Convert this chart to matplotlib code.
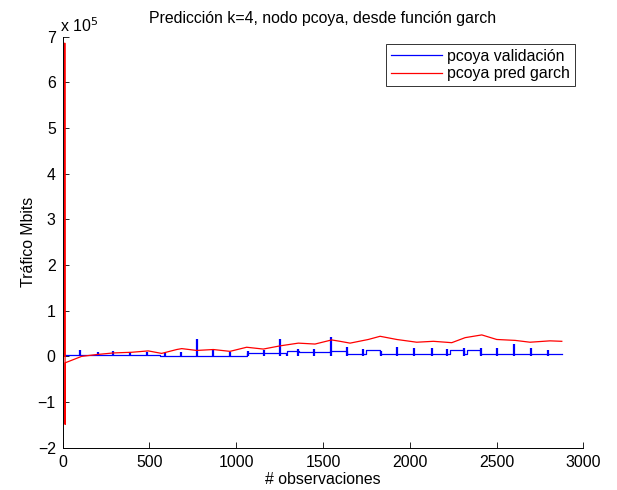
import numpy as np
import matplotlib.pyplot as plt

plt.rcParams['font.family'] = ['Liberation Sans', 'DejaVu Sans']

# red series: garch prediction (vertices, y in units of 1e4)
pred_x = [11, 12, 14, 15, 109, 196, 292, 398, 493, 570, 657, 686, 772, 868, 964, 1060,
          1156, 1252, 1358, 1454, 1550, 1598, 1656, 1761, 1829, 1925, 2040, 2136,
          2242, 2319, 2415, 2501, 2607, 2693, 2808, 2876]
pred_y = [0.0, 68.6, -14.9, -1.4, 0.0, 0.4, 0.75, 0.9, 1.2, 0.65, 1.5, 1.7, 1.3, 1.5, 1.1, 2.0,
          1.6, 2.3, 2.9, 2.7, 3.6, 3.3, 2.9, 3.7, 4.4, 3.7, 3.1, 3.3,
          3.0, 4.1, 4.7, 3.7, 3.5, 3.1, 3.4, 3.3]

# blue series: validation baseline (step levels, 1e4 units)
base_x = [0, 560, 1060, 1290, 1360, 1540, 1640, 1750, 1830, 2230, 2310, 2330, 2405, 2880]
base_y = [0.25, 0.15, 0.7, 1.1, 0.95, 1.1, 0.6, 1.3, 0.6, 1.3, 0.6, 1.3, 0.6, 0.6]

# blue series: daily bursts (position and peak, 1e4 units)
burst_x = [7, 100, 202, 292, 388, 488, 588, 683, 776, 866, 962, 1066, 1162, 1252, 1290,
           1354, 1450, 1544, 1640, 1732, 1833, 1928, 2025, 2127, 2216, 2313, 2409,
           2504, 2603, 2697, 2798]
burst_h = [0.8, 1.5, 0.9, 1.2, 1.0, 0.9, 0.7, 1.0, 3.9, 1.7, 1.0, 1.2, 1.4, 3.7, 0.6,
           1.7, 1.7, 4.2, 2.0, 1.7, 1.2, 2.0, 1.8, 1.8, 1.6, 1.8, 1.9,
           1.8, 2.8, 1.8, 1.5]

scale = 1e4
fs = 11.4

fig = plt.figure(figsize=(6.17, 4.9), dpi=100)
ax = fig.add_axes([0.1016, 0.0863, 0.8438, 0.8388])

ax.plot(base_x, np.array(base_y) * scale, color='blue', lw=0.9,
        drawstyle='steps-post', label='pcoya validación')
ax.vlines(burst_x, 0, np.array(burst_h) * scale, color='blue', lw=1.6)
ax.plot(pred_x, np.array(pred_y) * scale, color='red', lw=0.9, label='pcoya pred garch')

ax.set_xlim(0, 3000)
ax.set_ylim(-2e5, 7e5)
ax.set_xticks(range(0, 3001, 500))
yt = np.arange(-2, 8)
ax.set_yticks(yt * 1e5)
ax.set_yticklabels(['\u2212%d' % -v if v < 0 else '%d' % v for v in yt])
ax.tick_params(direction='in', length=4, width=0.6, labelsize=fs, pad=5)
for s in ['top', 'right']:
    ax.spines[s].set_visible(False)
for s in ['left', 'bottom']:
    ax.spines[s].set_linewidth(0.7)

ax.text(-0.005, 1.003, r'x 10$^5$', transform=ax.transAxes, fontsize=fs,
        ha='left', va='bottom')
ax.set_title('Predicción k=4, nodo pcoya, desde función garch', fontsize=fs, pad=10)
ax.set_xlabel('# observaciones', fontsize=fs, labelpad=2)
ax.set_ylabel('Tráfico Mbits', fontsize=fs, labelpad=1)

leg = ax.legend(loc='upper right', bbox_to_anchor=(0.984, 0.982), borderaxespad=0,
                fancybox=False, edgecolor='black', fontsize=fs, handlelength=3.2,
                borderpad=0.3, labelspacing=0.15, handletextpad=0.35)
leg.get_frame().set_linewidth(0.7)

fig.savefig('out.png', dpi=100)
